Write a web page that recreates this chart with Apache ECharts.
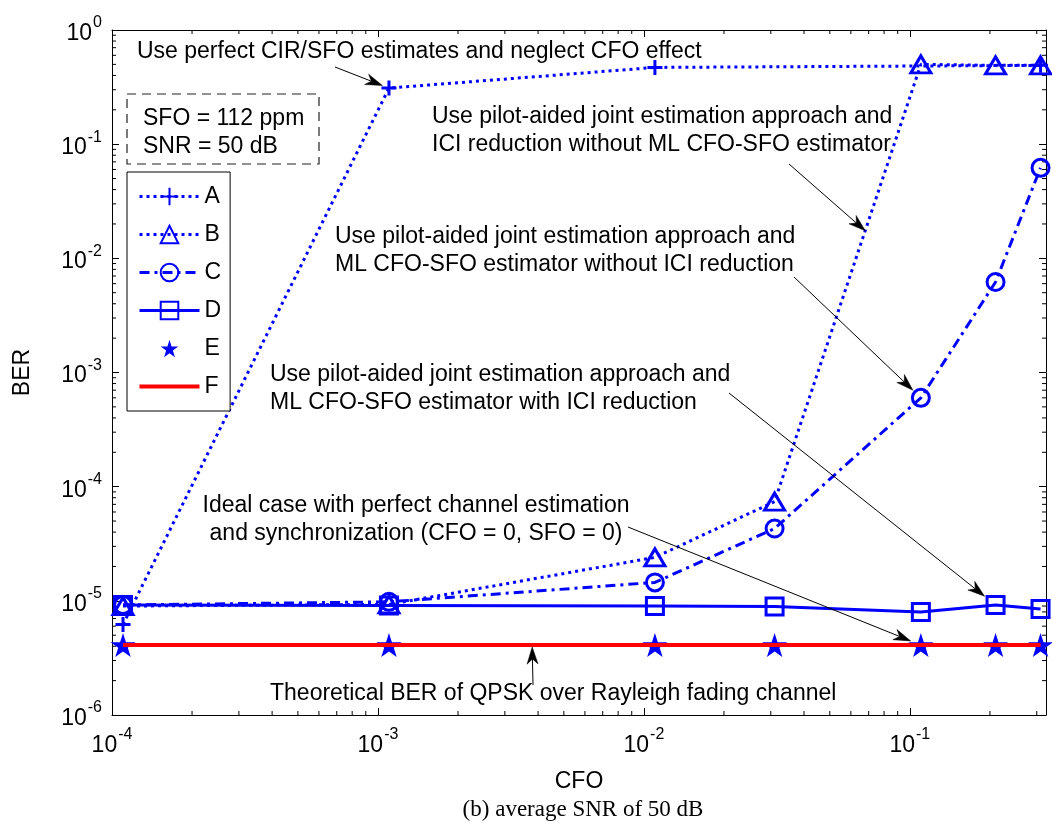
<!DOCTYPE html>
<html>
<head>
<meta charset="utf-8">
<script src="https://cdn.jsdelivr.net/npm/echarts@6/dist/echarts.min.js"></script>
<style>
  html, body { margin: 0; padding: 0; background: #fff; }
  #chart { width: 1052px; height: 831px; }
</style>
</head>
<body>
<div id="chart"></div>
<script>
// Normalised CFO values at which BER was simulated
const cfo  = [1.1e-4, 1.1e-3, 1.1e-2, 3.1e-2, 1.1e-1, 2.1e-1, 3.1e-1];
const cfoA = [1.1e-4, 1.1e-3, 1.1e-2, 3.1e-1];

// BER curves
const berA = [6.2e-6, 0.31, 0.47, 0.49];
const berB = [9.0e-6, 9.3e-6, 2.4e-5, 7.4e-5, 0.50, 0.49, 0.49];
const berC = [9.2e-6, 9.8e-6, 1.45e-5, 4.3e-5, 6.0e-4, 6.2e-3, 6.2e-2];
const berD = [9.2e-6, 9.1e-6, 9.0e-6, 8.9e-6, 8.0e-6, 9.2e-6, 8.5e-6];
const berE = [4.1e-6, 4.1e-6, 4.1e-6, 4.1e-6, 4.1e-6, 4.1e-6, 4.1e-6];
const berF = [4.1e-6, 4.1e-6, 4.1e-6, 4.1e-6, 4.1e-6, 4.1e-6, 4.1e-6];

const seriesNames = ['A', 'B', 'C', 'D', 'E', 'F'];

// Axis ranges
const xRange = [1e-4, 0.325];
const yRange = [1e-6, 1];

const BLUE = '#0000ff';
const RED = '#ff0000';
const SANS = '"Liberation Sans", Arial, Helvetica, sans-serif';

const PLUS = 'path://M0,50L100,50M50,0L50,100';
const STAR = 'path://M0,-100L22.45,-30.9L95.11,-30.9L36.33,11.8L58.78,80.9L0,38.2L-58.78,80.9L-36.33,11.8L-95.11,-30.9L-22.45,-30.9Z';
// plain red bar used as the legend key of the theoretical curve
const BAR = 'path://M0,0L60,0L60,4L0,4Z';

const pairs = (xs, ys) => xs.map((x, i) => [x, ys[i]]);

// minor tick positions (2..9 x 10^k) inside the axis ranges
function minorValues(range) {
  const out = [];
  const k0 = Math.floor(Math.log10(range[0]));
  const k1 = Math.ceil(Math.log10(range[1]));
  for (let k = k0; k < k1; k++) {
    for (let m = 2; m <= 9; m++) {
      const v = m * Math.pow(10, k);
      if (v > range[0] && v < range[1]) out.push(v);
    }
  }
  return out;
}

function powLabel(value) {
  const e = Math.log10(value);
  const r = Math.round(e);
  if (Math.abs(e - r) > 1e-6) return '';
  return '{b|10}{s|' + r + '}';
}
const labelRich = {
  b: { fontSize: 23, fontFamily: SANS, color: '#000', lineHeight: 30, verticalAlign: 'bottom' },
  s: { fontSize: 16, fontFamily: SANS, color: '#000', lineHeight: 30, verticalAlign: 'top', padding: [0, 0, 0, 1] }
};

const chart = echarts.init(document.getElementById('chart'), null, { renderer: 'canvas' });

const baseX = {
  type: 'log', logBase: 10, min: xRange[0], max: xRange[1],
  axisLine: { show: true, onZero: false, lineStyle: { color: '#000', width: 1 } },
  splitLine: { show: false }
};
const baseY = {
  type: 'log', logBase: 10, min: yRange[0], max: yRange[1],
  axisLine: { show: true, onZero: false, lineStyle: { color: '#000', width: 1 } },
  splitLine: { show: false }
};

const tickLen = 7, minorLen = 4;

const option = {
  animation: false,
  backgroundColor: '#fff',
  grid: { left: 112, right: 6, top: 30, bottom: 116, containLabel: false, outerBoundsMode: 'none' },
  title: {
    text: '(b) average SNR of 50 dB',
    left: 578, top: 793, textAlign: 'center',
    textStyle: { fontFamily: '"Liberation Serif", "Times New Roman", serif', fontSize: 23, fontWeight: 'normal', color: '#000' }
  },
  xAxis: [
    Object.assign({}, baseX, {
      position: 'bottom',
      name: 'CFO', nameLocation: 'middle', nameGap: 55,
      nameTextStyle: { fontFamily: SANS, fontSize: 23, color: '#000' },
      axisTick: { show: true, inside: true, length: tickLen, lineStyle: { color: '#000' } },
      axisLabel: { show: true, margin: 12, formatter: powLabel, rich: labelRich, showMinLabel: true, showMaxLabel: true }
    }),
    Object.assign({}, baseX, {
      position: 'top',
      axisTick: { show: true, inside: true, length: tickLen, lineStyle: { color: '#000' } },
      axisLabel: { show: false }
    })
  ],
  yAxis: [
    Object.assign({}, baseY, {
      position: 'left',
      name: 'BER', nameLocation: 'middle', nameGap: 78, nameRotate: 90,
      nameTextStyle: { fontFamily: SANS, fontSize: 23, color: '#000' },
      axisTick: { show: true, inside: true, length: tickLen, lineStyle: { color: '#000' } },
      axisLabel: { show: true, margin: 10, formatter: powLabel, rich: labelRich }
    }),
    Object.assign({}, baseY, {
      position: 'right',
      axisTick: { show: true, inside: true, length: tickLen, lineStyle: { color: '#000' } },
      axisLabel: { show: false }
    })
  ],
  legend: {
    data: seriesNames.map(n => (n === 'F' ? { name: n, icon: BAR } : { name: n })),
    orient: 'vertical',
    left: 127, top: 172,
    padding: [13, 9, 13, 11],
    itemWidth: 60, itemHeight: 22, itemGap: 15,
    borderColor: '#000', borderWidth: 1, backgroundColor: '#fff',
    lineStyle: { width: 3 },
    textStyle: { fontFamily: SANS, fontSize: 23, color: '#000' },
    selectedMode: false
  },
  series: [
    {
      name: 'A', type: 'line', data: pairs(cfoA, berA),
      symbol: PLUS, symbolSize: 15, showAllSymbol: true,
      lineStyle: { color: BLUE, width: 3, type: [3, 4] },
      itemStyle: { color: 'rgba(0,0,0,0)', borderColor: BLUE, borderWidth: 3 },
      z: 3
    },
    {
      name: 'B', type: 'line', data: pairs(cfo, berB),
      symbol: 'triangle', symbolSize: [20, 17], showAllSymbol: true,
      lineStyle: { color: BLUE, width: 3, type: [3, 4] },
      itemStyle: { color: 'rgba(0,0,0,0)', borderColor: BLUE, borderWidth: 3 },
      z: 3
    },
    {
      name: 'C', type: 'line', data: pairs(cfo, berC),
      symbol: 'circle', symbolSize: 17, showAllSymbol: true,
      lineStyle: { color: BLUE, width: 3, type: [10, 5, 3, 5] },
      itemStyle: { color: 'rgba(0,0,0,0)', borderColor: BLUE, borderWidth: 3 },
      z: 3
    },
    {
      name: 'D', type: 'line', data: pairs(cfo, berD),
      symbol: 'rect', symbolSize: 17, showAllSymbol: true,
      lineStyle: { color: BLUE, width: 3, type: 'solid' },
      itemStyle: { color: 'rgba(0,0,0,0)', borderColor: BLUE, borderWidth: 3 },
      z: 3
    },
    {
      name: 'E', type: 'line', data: pairs(cfo, berE),
      symbol: STAR, symbolSize: [25, 24], showAllSymbol: true,
      lineStyle: { color: BLUE, width: 0, opacity: 0 },
      itemStyle: { color: BLUE, borderColor: BLUE, borderWidth: 0 },
      z: 3
    },
    {
      name: 'F', type: 'line', data: pairs(cfo, berF),
      symbol: 'none',
      lineStyle: { color: RED, width: 4, type: 'solid' },
      itemStyle: { color: RED, borderWidth: 0 },
      z: 4
    },
    {
      // minor ticks on the bottom and top edges
      type: 'custom', xAxisIndex: 0, yAxisIndex: 0, silent: true, z: 2,
      data: minorValues(xRange).map(v => [v, yRange[0]]),
      renderItem: function (params, api) {
        const b = api.coord([api.value(0), yRange[0]]);
        const t = api.coord([api.value(0), yRange[1]]);
        const st = { stroke: '#000', lineWidth: 1 };
        return { type: 'group', children: [
          { type: 'line', shape: { x1: b[0], y1: b[1], x2: b[0], y2: b[1] - minorLen }, style: st },
          { type: 'line', shape: { x1: t[0], y1: t[1], x2: t[0], y2: t[1] + minorLen }, style: st }
        ] };
      }
    },
    {
      // minor ticks on the left and right edges
      type: 'custom', xAxisIndex: 0, yAxisIndex: 0, silent: true, z: 2,
      data: minorValues(yRange).map(v => [xRange[0], v]),
      renderItem: function (params, api) {
        const l = api.coord([xRange[0], api.value(1)]);
        const r = api.coord([xRange[1], api.value(1)]);
        const st = { stroke: '#000', lineWidth: 1 };
        return { type: 'group', children: [
          { type: 'line', shape: { x1: l[0], y1: l[1], x2: l[0] + minorLen, y2: l[1] }, style: st },
          { type: 'line', shape: { x1: r[0], y1: r[1], x2: r[0] - minorLen, y2: r[1] }, style: st }
        ] };
      }
    }
  ]
};

chart.setOption(option);

// Annotation texts (left-aligned unless noted)
const FONT = '23px ' + SANS;
const notes = [
  { x: 137, y: 52,  text: 'Use perfect CIR/SFO estimates and neglect CFO effect' },
  { x: 432, y: 117, text: 'Use pilot-aided joint estimation approach and' },
  { x: 432, y: 145, text: 'ICI reduction without ML CFO-SFO estimator' },
  { x: 335, y: 237, text: 'Use pilot-aided joint estimation approach and' },
  { x: 335, y: 265, text: 'ML CFO-SFO estimator without ICI reduction' },
  { x: 270, y: 375, text: 'Use pilot-aided joint estimation approach and' },
  { x: 270, y: 403, text: 'ML CFO-SFO estimator with ICI reduction' },
  { x: 416, y: 506, text: 'Ideal case with perfect channel estimation', align: 'center' },
  { x: 416, y: 534, text: 'and synchronization (CFO = 0, SFO = 0)', align: 'center' },
  { x: 270, y: 694, text: 'Theoretical BER of QPSK over Rayleigh fading channel' },
  { x: 143, y: 119, text: 'SFO = 112 ppm' },
  { x: 143, y: 147, text: 'SNR = 50 dB' }
];

// Arrows: start point in pixels, tip anchored to a data point
const arrows = [
  { from: [335, 67],  to: [cfoA[1], berA[1]], back: 7 },
  { from: [789, 164], to: [0.068, 0.0174],    back: 0 },
  { from: [794, 277], to: [cfo[4], berC[4]],  back: 11 },
  { from: [729, 393], to: [cfo[5], berD[5]],  back: 14 },
  { from: [628, 527], to: [cfo[4], berE[4]],  back: 11 },
  { from: [533, 685], to: [3.8e-3, berF[0]],  back: 2 }
];

const graphics = [];
notes.forEach(n => {
  graphics.push({
    type: 'text', x: n.x, y: n.y, z: 10, silent: true,
    style: { text: n.text, font: FONT, fill: '#000', align: n.align || 'left', verticalAlign: 'middle' }
  });
});

// dashed parameter box
graphics.push({
  type: 'rect', x: 127, y: 94, z: 9, silent: true,
  shape: { width: 192, height: 70 },
  style: { fill: '#fff', stroke: '#222', lineWidth: 1.2, lineDash: [9, 6] }
});

arrows.forEach(a => {
  const tip0 = chart.convertToPixel({ xAxisIndex: 0, yAxisIndex: 0 }, a.to);
  const dx = tip0[0] - a.from[0], dy = tip0[1] - a.from[1];
  const len = Math.sqrt(dx * dx + dy * dy);
  const ux = dx / len, uy = dy / len;
  const tip = [tip0[0] - ux * a.back, tip0[1] - uy * a.back];
  const L = 17, W = 5.5;
  const base = [tip[0] - ux * L, tip[1] - uy * L];
  const notch = [tip[0] - ux * L * 0.7, tip[1] - uy * L * 0.7];
  const nx = -uy, ny = ux;
  graphics.push({
    type: 'line', z: 10, silent: true,
    shape: { x1: a.from[0], y1: a.from[1], x2: notch[0], y2: notch[1] },
    style: { stroke: '#000', lineWidth: 1 }
  });
  graphics.push({
    type: 'polygon', z: 10, silent: true,
    shape: { points: [tip, [base[0] + nx * W, base[1] + ny * W], notch, [base[0] - nx * W, base[1] - ny * W]] },
    style: { fill: '#000', stroke: '#000', lineWidth: 0.5 }
  });
});

chart.setOption({ graphic: graphics });
</script>
</body>
</html>
